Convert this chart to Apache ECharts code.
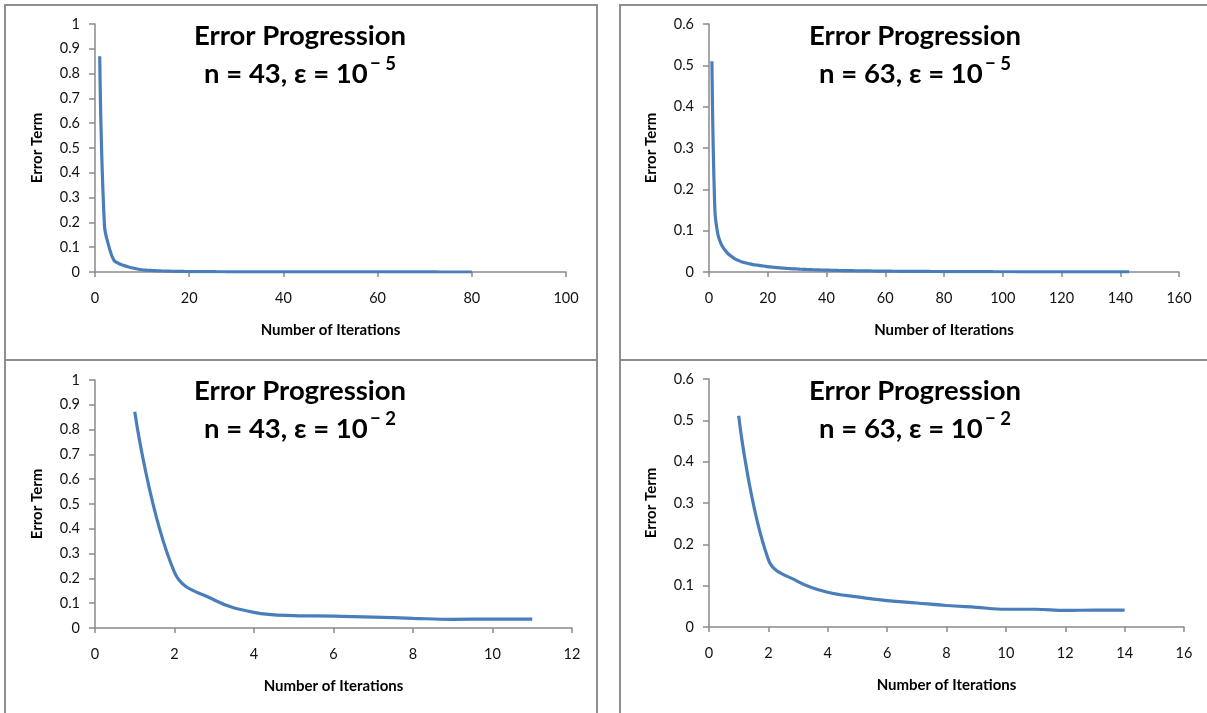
<!DOCTYPE html>
<html>
<head>
<meta charset="utf-8">
<script src="https://cdn.jsdelivr.net/npm/echarts@6/dist/echarts.min.js"></script>
<style>
html,body{margin:0;padding:0;background:#fff;}
#chart{width:1207px;height:713px;}
</style>
</head>
<body>
<div id="chart"></div>
<script>
// ---- Data ----
// Top-left: n = 43, eps = 1e-5 (80 iterations)
const errN43e5 = [
  0.87,0.19,0.10,0.048,0.035,0.027,0.021,0.016,0.012,0.009,
  0.0075,0.0062,0.0052,0.0044,0.0038,0.0033,0.0029,0.0025,0.0022,0.002,
  0.0018,0.0016,0.0014,0.0013,0.0012,0.0011,0.001,0.0009,0.00085,0.0008,
  0.00075,0.0007,0.00065,0.0006,0.00056,0.00052,0.00049,0.00046,0.00043,0.0004,
  0.00038,0.00036,0.00034,0.00032,0.0003,0.00028,0.00027,0.00026,0.00025,0.00024,
  0.00023,0.00022,0.00021,0.0002,0.00019,0.00018,0.00018,0.00017,0.00016,0.00016,
  0.00015,0.00015,0.00014,0.00014,0.00013,0.00013,0.00012,0.00012,0.00012,0.00011,
  0.00011,0.00011,0.0001,0.0001,0.0001,0.0001,0.00009,0.00009,0.00009,0.00009
];
// Top-right: n = 63, eps = 1e-5 (143 iterations)
const errN63e5 = [
  0.51,0.15,0.092,0.07,0.057,0.048,0.041,0.036,0.031,0.028,
  0.025,0.023,0.021,0.0195,0.018,0.017,0.016,0.015,0.014,0.013,
  0.0122,0.0115,0.0108,0.0102,0.0096,0.009,0.0085,0.008,0.0076,0.0072,
  0.0068,0.0065,0.0062,0.0059,0.0056,0.0053,0.0051,0.0049,0.0047,0.0045,
  0.0043,0.0041,0.0039,0.0037,0.0036,0.0034,0.0033,0.0032,0.0031,0.003,
  0.0029,0.0028,0.0027,0.0026,0.0025,0.0024,0.0023,0.0022,0.0021,0.002,
  0.0019,0.0019,0.0018,0.0018,0.0017,0.0017,0.0016,0.0016,0.0015,0.0015,
  0.0014,0.0014,0.0013,0.0013,0.0013,0.0012,0.0012,0.0012,0.0011,0.0011,
  0.0011,0.001,0.001,0.001,0.00095,0.0009,0.0009,0.00085,0.00085,0.0008,
  0.0008,0.00075,0.00075,0.0007,0.0007,0.0007,0.00065,0.00065,0.0006,0.0006,
  0.0006,0.00055,0.00055,0.00055,0.0005,0.0005,0.0005,0.00048,0.00046,0.00045,
  0.00044,0.00042,0.0004,0.0004,0.00039,0.00038,0.00037,0.00036,0.00035,0.00034,
  0.00033,0.00032,0.00031,0.0003,0.0003,0.00029,0.00028,0.00028,0.00027,0.00026,
  0.00026,0.00025,0.00025,0.00024,0.00024,0.00023,0.00023,0.00022,0.00022,0.00021,
  0.00021,0.0002,0.0002
];
// Bottom-left: n = 43, eps = 1e-2 (11 iterations)
const errN43e2 = [0.872,0.224,0.113,0.063,0.050,0.048,0.044,0.039,0.035,0.036,0.036];
// Bottom-right: n = 63, eps = 1e-2 (14 iterations)
const errN63e2 = [0.511,0.163,0.110,0.084,0.073,0.064,0.058,0.052,0.0475,0.043,0.043,0.040,0.041,0.041];

const titles = [
  {n:'43', e:'5'},
  {n:'63', e:'5'},
  {n:'43', e:'2'},
  {n:'63', e:'2'}
];
const xMax = [100, 160, 12, 16];
const xStep = [20, 20, 2, 2];
const yMax = [1, 0.6, 1, 0.6];
const yLabel = 'Error Term';
const xLabel = 'Number of Iterations';

// ---- Layout ----
const FONT = 'Lato, "Liberation Sans", sans-serif';
const grids = [
  {left:95, top:24, width:471, height:248},
  {left:709, top:24, width:470, height:248},
  {left:95, top:380, width:477, height:248},
  {left:709, top:379, width:475, height:248}
];
const titlePos = [[300,17],[915,17],[300,372],[915,372]];
const seriesData = [errN43e5, errN63e5, errN43e2, errN63e2];

const axisLineStyle = {color:'#8a8a8a', width:1.5};
const xAxes = [], yAxes = [], series = [];
for (let i = 0; i < 4; i++) {
  xAxes.push({
    type:'value', gridIndex:i, min:0, max:xMax[i], interval:xStep[i],
    name:xLabel, nameLocation:'middle', nameGap:51,
    nameTextStyle:{fontFamily:FONT, fontWeight:'bold', fontSize:15, color:'#000'},
    axisLine:{show:true, onZero:false, lineStyle:axisLineStyle},
    axisTick:{show:true, length:5, inside:false, lineStyle:axisLineStyle},
    axisLabel:{fontFamily:FONT, fontSize:14.5, color:'#111', margin:19},
    splitLine:{show:false}
  });
  yAxes.push({
    type:'value', gridIndex:i, min:0, max:yMax[i], interval:0.1,
    name:yLabel, nameLocation:'middle', nameGap:50,
    nameTextStyle:{fontFamily:FONT, fontWeight:'bold', fontSize:15, color:'#000'},
    axisLine:{show:true, lineStyle:axisLineStyle},
    axisTick:{show:true, length:6, inside:false, lineStyle:axisLineStyle},
    axisLabel:{fontFamily:FONT, fontSize:14.5, color:'#111', margin:15},
    splitLine:{show:false}
  });
  series.push({
    type:'line', xAxisIndex:i, yAxisIndex:i,
    data: seriesData[i].map((v, k) => [k + 1, v]),
    showSymbol:false, symbol:'none', smooth:0.4,
    lineStyle:{color:'#4a7ebb', width:3.2},
    animation:false
  });
}

const graphics = [
  {type:'rect', shape:{x:5, y:5, width:592, height:355}, style:{fill:'none', stroke:'#8e8e8e', lineWidth:2}},
  {type:'rect', shape:{x:620, y:5, width:600, height:355}, style:{fill:'none', stroke:'#8e8e8e', lineWidth:2}},
  {type:'rect', shape:{x:5, y:360, width:592, height:400}, style:{fill:'none', stroke:'#8e8e8e', lineWidth:2}},
  {type:'rect', shape:{x:620, y:360, width:600, height:400}, style:{fill:'none', stroke:'#8e8e8e', lineWidth:2}}
];
titles.forEach((t, i) => {
  graphics.push({
    type:'text', x:titlePos[i][0], y:titlePos[i][1], z:10,
    style:{
      text:'Error Progression\nn = ' + t.n + ', ε = 10{sup|\u2009− ' + t.e + '}',
      align:'center', verticalAlign:'top',
      fontFamily:FONT, fontWeight:'bold', fontSize:27.5, lineHeight:38, fill:'#000',
      rich:{sup:{fontFamily:FONT, fontWeight:'bold', fontSize:18.5, lineHeight:22, verticalAlign:'top', fill:'#000'}}
    }
  });
});

const chart = echarts.init(document.getElementById('chart'), null, {renderer:'canvas'});
chart.setOption({
  animation:false,
  backgroundColor:'#ffffff',
  grid: grids,
  xAxis: xAxes,
  yAxis: yAxes,
  series: series,
  graphic: graphics
});
</script>
</body>
</html>
